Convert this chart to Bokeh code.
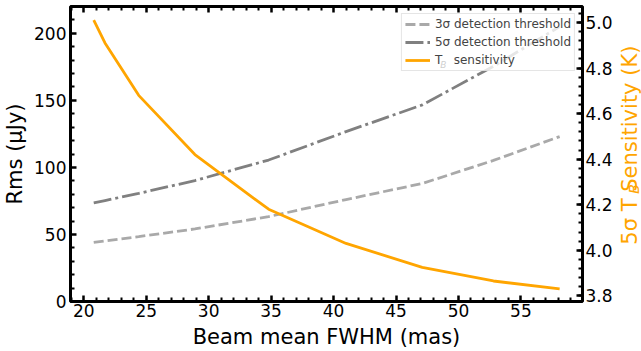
import numpy as np
from math import pi
from bokeh.plotting import figure
from bokeh.layouts import row
from bokeh.models import (Range1d, LinearAxis, FixedTicker, Legend, LegendItem,
                          Label, PrintfTickFormatter)
from bokeh.embed import file_html
from bokeh.resources import INLINE

# ---------------- data ----------------
fwhm = [20.8, 21.7, 24.4, 28.9, 34.8, 41.0, 47.1, 52.8, 58.1]          # mas
det3 = [44.1, 45.2, 48.4, 54.1, 63.3, 76.0, 88.0, 105.2, 123.0]        # uJy
det5 = [73.5, 75.3, 80.6, 90.2, 105.5, 126.7, 146.6, 175.4, 205.0]     # uJy
tb_sens = [5.01, 4.91, 4.68, 4.42, 4.18, 4.03, 3.925, 3.865, 3.83]     # K

x_ticks = [20, 25, 30, 35, 40, 45, 50, 55]
y_ticks = [0, 50, 100, 150, 200]
y2_ticks = [3.8, 4.0, 4.2, 4.4, 4.6, 4.8, 5.0]

x_minor = [v for v in np.arange(19, 60, 1.0) if v % 5 != 0]
y_minor = [v for v in np.arange(0, 221, 10.0) if v % 50 != 0]
y2_minor = [round(v, 2) for v in np.arange(3.76, 5.08, 0.04)]

labels = ["3σ detection threshold", "5σ detection threshold", "T   sensitivity"]
y2_title = "5σ T   Sensitivity (K)"

# ---------------- layout constants ----------------
W, H = 641, 351
SPLIT = 615                     # main plot width; right strip holds the y2 title
FL, FR, FT, FB = 70, 585, 6, 302
X0, X1 = 18.94, 59.93
Y0, Y1 = 0.0, 220.0
Y20, Y21 = 3.775, 5.07
ORANGE = "#ffa500"
FONT = "DejaVu Sans"


def px_x(px):
    return X0 + (px - FL) * (X1 - X0) / (FR - FL)


def px_y(py):
    return Y0 + (FB - py) * (Y1 - Y0) / (FB - FT)


p = figure(width=SPLIT, height=H, output_backend="svg", toolbar_location=None,
           x_range=Range1d(X0, X1), y_range=Range1d(Y0, Y1),
           min_border_left=FL, min_border_right=SPLIT - FR,
           min_border_top=FT, min_border_bottom=H - FB)
p.grid.visible = False
p.outline_line_color = "black"
p.outline_line_width = 3
p.background_fill_color = "white"
p.border_fill_color = "white"
p.extra_y_ranges = {"tb": Range1d(Y20, Y21)}

r3 = p.line(fwhm, det3, line_color="#a9a9a9", line_width=2.8, line_dash="10 4")
r5 = p.line(fwhm, det5, line_color="#808080", line_width=2.8, line_dash="18 4 3 4")
rt = p.line(fwhm, tb_sens, y_range_name="tb", line_color=ORANGE, line_width=2.8)


def style(ax):
    ax.axis_line_color = None
    ax.major_tick_in = 6
    ax.major_tick_out = 0
    ax.minor_tick_in = 4
    ax.minor_tick_out = 0
    ax.major_tick_line_width = 2.5
    ax.minor_tick_line_width = 2
    ax.major_tick_line_color = "black"
    ax.minor_tick_line_color = "black"
    ax.major_label_text_font = FONT
    ax.major_label_text_font_size = "17px"
    ax.major_label_text_color = "black"
    ax.major_label_standoff = 4
    ax.axis_label_text_font = FONT
    ax.axis_label_text_font_size = "21px"
    ax.axis_label_text_font_style = "normal"
    ax.axis_label_text_color = "black"


xb = p.xaxis[0]
xb.ticker = FixedTicker(ticks=x_ticks, minor_ticks=x_minor)
style(xb)
xb.axis_label = "Beam mean FWHM (mas)"
xb.major_label_standoff = 2
xb.axis_label_standoff = 5

yl = p.yaxis[0]
yl.ticker = FixedTicker(ticks=y_ticks, minor_ticks=y_minor)
style(yl)
yl.axis_label = "Rms (μJy)"
yl.axis_label_standoff = 4

# mirrored ticks on top, no labels
xt = LinearAxis(ticker=FixedTicker(ticks=x_ticks, minor_ticks=x_minor))
style(xt)
xt.major_label_text_font_size = "1px"
xt.major_label_text_color = None
xt.major_label_standoff = 0
p.add_layout(xt, "above")

yr = LinearAxis(y_range_name="tb", ticker=FixedTicker(ticks=y2_ticks, minor_ticks=y2_minor),
                formatter=PrintfTickFormatter(format="%.1f"))
style(yr)
yr.major_label_standoff = 3
p.add_layout(yr, "right")

legend = Legend(items=[LegendItem(label=labels[0], renderers=[r3]),
                       LegendItem(label=labels[1], renderers=[r5]),
                       LegendItem(label=labels[2], renderers=[rt])],
                location="top_right", margin=7, padding=3, spacing=4,
                glyph_width=25, glyph_height=14, label_height=14, label_standoff=5,
                label_text_font=FONT, label_text_font_size="12px",
                border_line_color="#cccccc", border_line_width=1,
                background_fill_color="white", background_fill_alpha=0.8)
p.add_layout(legend)

# subscript B in legend entry
p.add_layout(Label(x=px_x(442), y=px_y(65), text="B", text_font=FONT,
                   text_font_size="9px", text_font_style="italic",
                   text_align="left", text_baseline="alphabetic", text_color="black"))

# ---- right strip with the y2 title "5σ T_B Sensitivity (K)" ----
QW = W - SPLIT
q = figure(width=QW, height=H, output_backend="svg", toolbar_location=None,
           x_range=Range1d(0, QW), y_range=Range1d(0, H),
           min_border=0, min_border_left=0, min_border_right=0,
           min_border_top=0, min_border_bottom=0,
           x_axis_location=None, y_axis_location=None)
q.grid.visible = False
q.outline_line_color = None
q.background_fill_color = "white"
q.border_fill_color = "white"

# main title text, centred on the frame's vertical middle
TITLE_CY = 157.0
q.add_layout(Label(x=629 - SPLIT, y=H - TITLE_CY, text=y2_title, text_font=FONT,
                   text_font_size="21px", angle=pi / 2,
                   text_align="center", text_baseline="middle",
                   text_color=ORANGE))
# subscript B sitting in the gap after "T"
q.add_layout(Label(x=633 - SPLIT, y=H - 217.0, text="B", text_font=FONT,
                   text_font_size="14px", text_font_style="italic", angle=pi / 2,
                   text_align="center", text_baseline="middle",
                   text_color=ORANGE))

layout = row(p, q, spacing=0)
open("out.html", "w").write(file_html(layout, INLINE))
